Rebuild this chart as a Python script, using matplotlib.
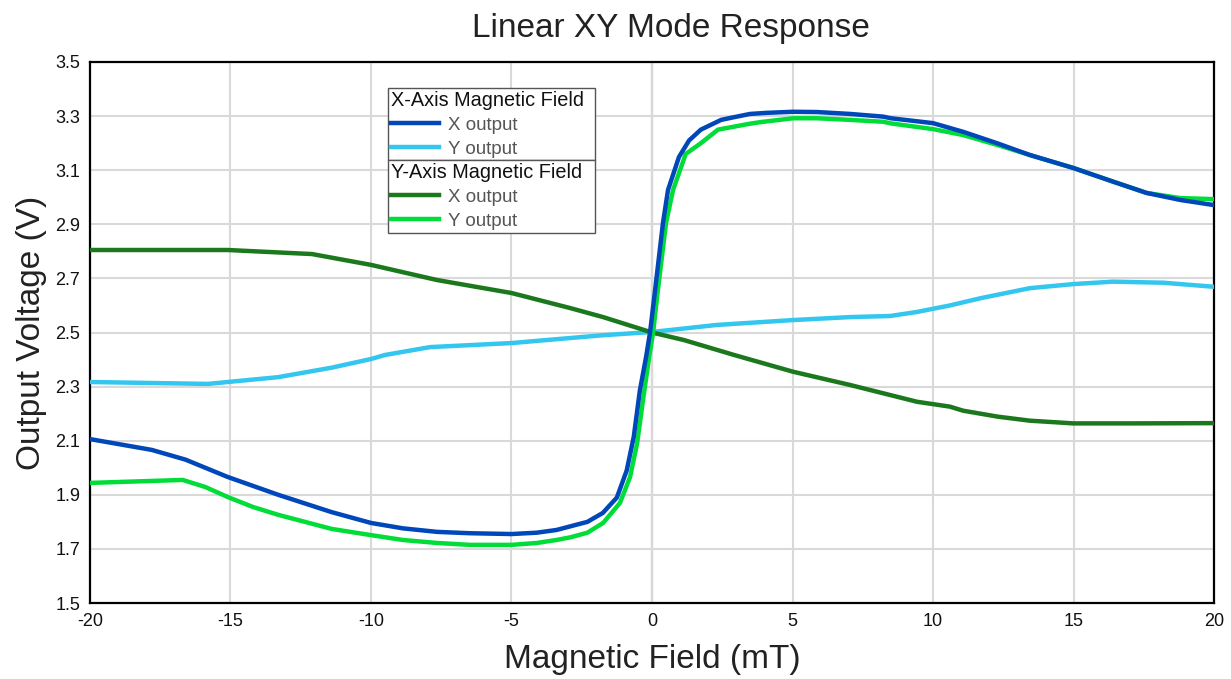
import matplotlib
matplotlib.use("Agg")
import matplotlib.pyplot as plt

plt.rcParams['font.family'] = ['Liberation Sans', 'DejaVu Sans']

# X-Axis Magnetic Field, X output
xf_x_x = [-20, -17.8, -16.6, -15.1, -13.3, -11.4, -10, -8.86, -7.65, -6.48, -5, -4.1, -3.4,
          -2.3, -1.75, -1.25, -0.9, -0.65, -0.43, -0.21, -0.07, 0.11, 0.39, 0.57, 0.96, 1.32,
          1.74, 2.46, 2.92, 3.49, 4.08, 5.02, 5.87, 7.05, 8.23, 8.5, 10, 11.07, 12.3, 13.45,
          15, 16.4, 17.6, 18.8, 20]
xf_x_y = [2.106, 2.066, 2.03, 1.966, 1.90, 1.836, 1.796, 1.776, 1.763, 1.758, 1.755, 1.76,
          1.77, 1.80, 1.833, 1.89, 1.99, 2.114, 2.287, 2.41, 2.5, 2.657, 2.905, 3.027, 3.149,
          3.21, 3.25, 3.286, 3.296, 3.308, 3.312, 3.316, 3.315, 3.308, 3.298, 3.292, 3.274,
          3.242, 3.199, 3.156, 3.108, 3.058, 3.016, 2.99, 2.971]

# X-Axis Magnetic Field, Y output
xf_y_x = [-20, -15.8, -13.3, -11.4, -10, -9.5, -7.9, -5, -1.74, 0, 2.31, 5.02, 7.05, 8.47,
          9.43, 10.6, 11.7, 13.45, 15, 16.4, 18.2, 20]
xf_y_y = [2.317, 2.31, 2.335, 2.37, 2.402, 2.417, 2.446, 2.461, 2.49, 2.502, 2.528, 2.546,
          2.557, 2.561, 2.576, 2.60, 2.627, 2.664, 2.679, 2.688, 2.684, 2.669]

# Y-Axis Magnetic Field, X output
yf_x_x = [-20, -15.1, -12.1, -10, -7.65, -5, -2.9, -1.74, 0, 1.14, 2.92, 5.02, 7.05, 9.43,
          10.6, 11.07, 12.3, 13.45, 15, 17, 20]
yf_x_y = [2.805, 2.805, 2.79, 2.75, 2.694, 2.646, 2.59, 2.557, 2.50, 2.472, 2.417, 2.355,
          2.306, 2.244, 2.226, 2.211, 2.189, 2.174, 2.164, 2.164, 2.165]

# Y-Axis Magnetic Field, Y output
yf_y_x = [-20, -16.7, -15.9, -15.1, -14.2, -13.3, -11.4, -10, -8.86, -7.65, -6.48, -5, -4.1,
          -3.4, -2.9, -2.3, -1.74, -1.14, -0.78, -0.53, -0.32, -0.1, 0.04, 0.21, 0.5, 0.75,
          1.2, 1.74, 2.35, 2.92, 3.49, 3.88, 5.02, 5.87, 7.05, 8.23, 8.5, 10, 11.07, 12.3,
          13.45, 15, 16.4, 17.6, 18.8, 20]
yf_y_y = [1.944, 1.955, 1.929, 1.892, 1.855, 1.826, 1.774, 1.751, 1.733, 1.722, 1.715, 1.715,
          1.722, 1.733, 1.743, 1.76, 1.796, 1.87, 1.966, 2.09, 2.25, 2.41, 2.5, 2.657, 2.905,
          3.027, 3.16, 3.2, 3.25, 3.261, 3.272, 3.278, 3.292, 3.292, 3.286, 3.279, 3.273,
          3.252, 3.23, 3.193, 3.156, 3.108, 3.058, 3.016, 2.997, 2.993]

x_ticks = [-20, -15, -10, -5, 0, 5, 10, 15, 20]
y_ticks = [1.5, 1.7, 1.9, 2.1, 2.3, 2.5, 2.7, 2.9, 3.1, 3.3, 3.5]

c_dblue = '#0047BA'
c_lblue = '#33C6EE'
c_dgreen = '#1C781C'
c_lgreen = '#00DD38'

fig = plt.figure(figsize=(12.31, 6.79), dpi=100)
ax = fig.add_axes([0.0731, 0.1119, 0.9131, 0.7968])

ax.set_xlim(-20, 20)
ax.set_ylim(1.5, 3.5)
ax.set_xticks(x_ticks)
ax.set_yticks(y_ticks)
ax.set_xticklabels([str(t) for t in x_ticks])
ax.set_yticklabels([f"{t:.1f}" for t in y_ticks])
ax.grid(True, color='#d9d9d9', linewidth=1.5, zorder=0)
ax.axvline(0, color='#b8b8b8', linewidth=1.6, zorder=1)
ax.tick_params(length=0, labelsize=13, pad=7, colors='#111111')
for s in ax.spines.values():
    s.set_linewidth(1.6)
    s.set_color('black')

lw = 3.2
l1, = ax.plot(xf_x_x, xf_x_y, color=c_dblue, lw=lw, zorder=5, solid_joinstyle='round')
l2, = ax.plot(xf_y_x, xf_y_y, color=c_lblue, lw=lw, zorder=3, solid_joinstyle='round')
l3, = ax.plot(yf_x_x, yf_x_y, color=c_dgreen, lw=lw, zorder=3, solid_joinstyle='round')
l4, = ax.plot(yf_y_x, yf_y_y, color=c_lgreen, lw=lw, zorder=4, solid_joinstyle='round')

ax.set_title("Linear XY Mode Response", fontsize=24, pad=18, color='#222222', x=0.5165)
ax.set_xlabel("Magnetic Field (mT)", fontsize=24, labelpad=10, color='#222222')
ax.set_ylabel("Output Voltage (V)", fontsize=24, labelpad=6, color='#222222')

def make_leg(handles, labels, title, y0):
    leg = ax.legend(handles, labels, title=title, loc='upper left',
                    bbox_to_anchor=(0.265, y0, 0.184, 0.0), mode='expand',
                    fontsize=13.5, title_fontsize=14.3, frameon=True, fancybox=False,
                    edgecolor='#555555', framealpha=1, borderpad=0.15, labelspacing=0.36,
                    handlelength=2.6, handletextpad=0.45, borderaxespad=0.0)
    leg._legend_box.align = 'left'
    leg.get_frame().set_linewidth(1.0)
    for t in leg.get_texts():
        t.set_color('#555555')
    leg.get_title().set_color('#111111')
    leg.set_zorder(10)
    return leg

leg1 = make_leg([l1, l2], ['X output', 'Y output'], 'X-Axis Magnetic Field', 0.952)
ax.add_artist(leg1)
fig.canvas.draw()
bb = leg1.get_window_extent().transformed(ax.transAxes.inverted())
leg2 = make_leg([l3, l4], ['X output', 'Y output'], 'Y-Axis Magnetic Field', bb.y0)

fig.savefig('out.png', dpi=100)
